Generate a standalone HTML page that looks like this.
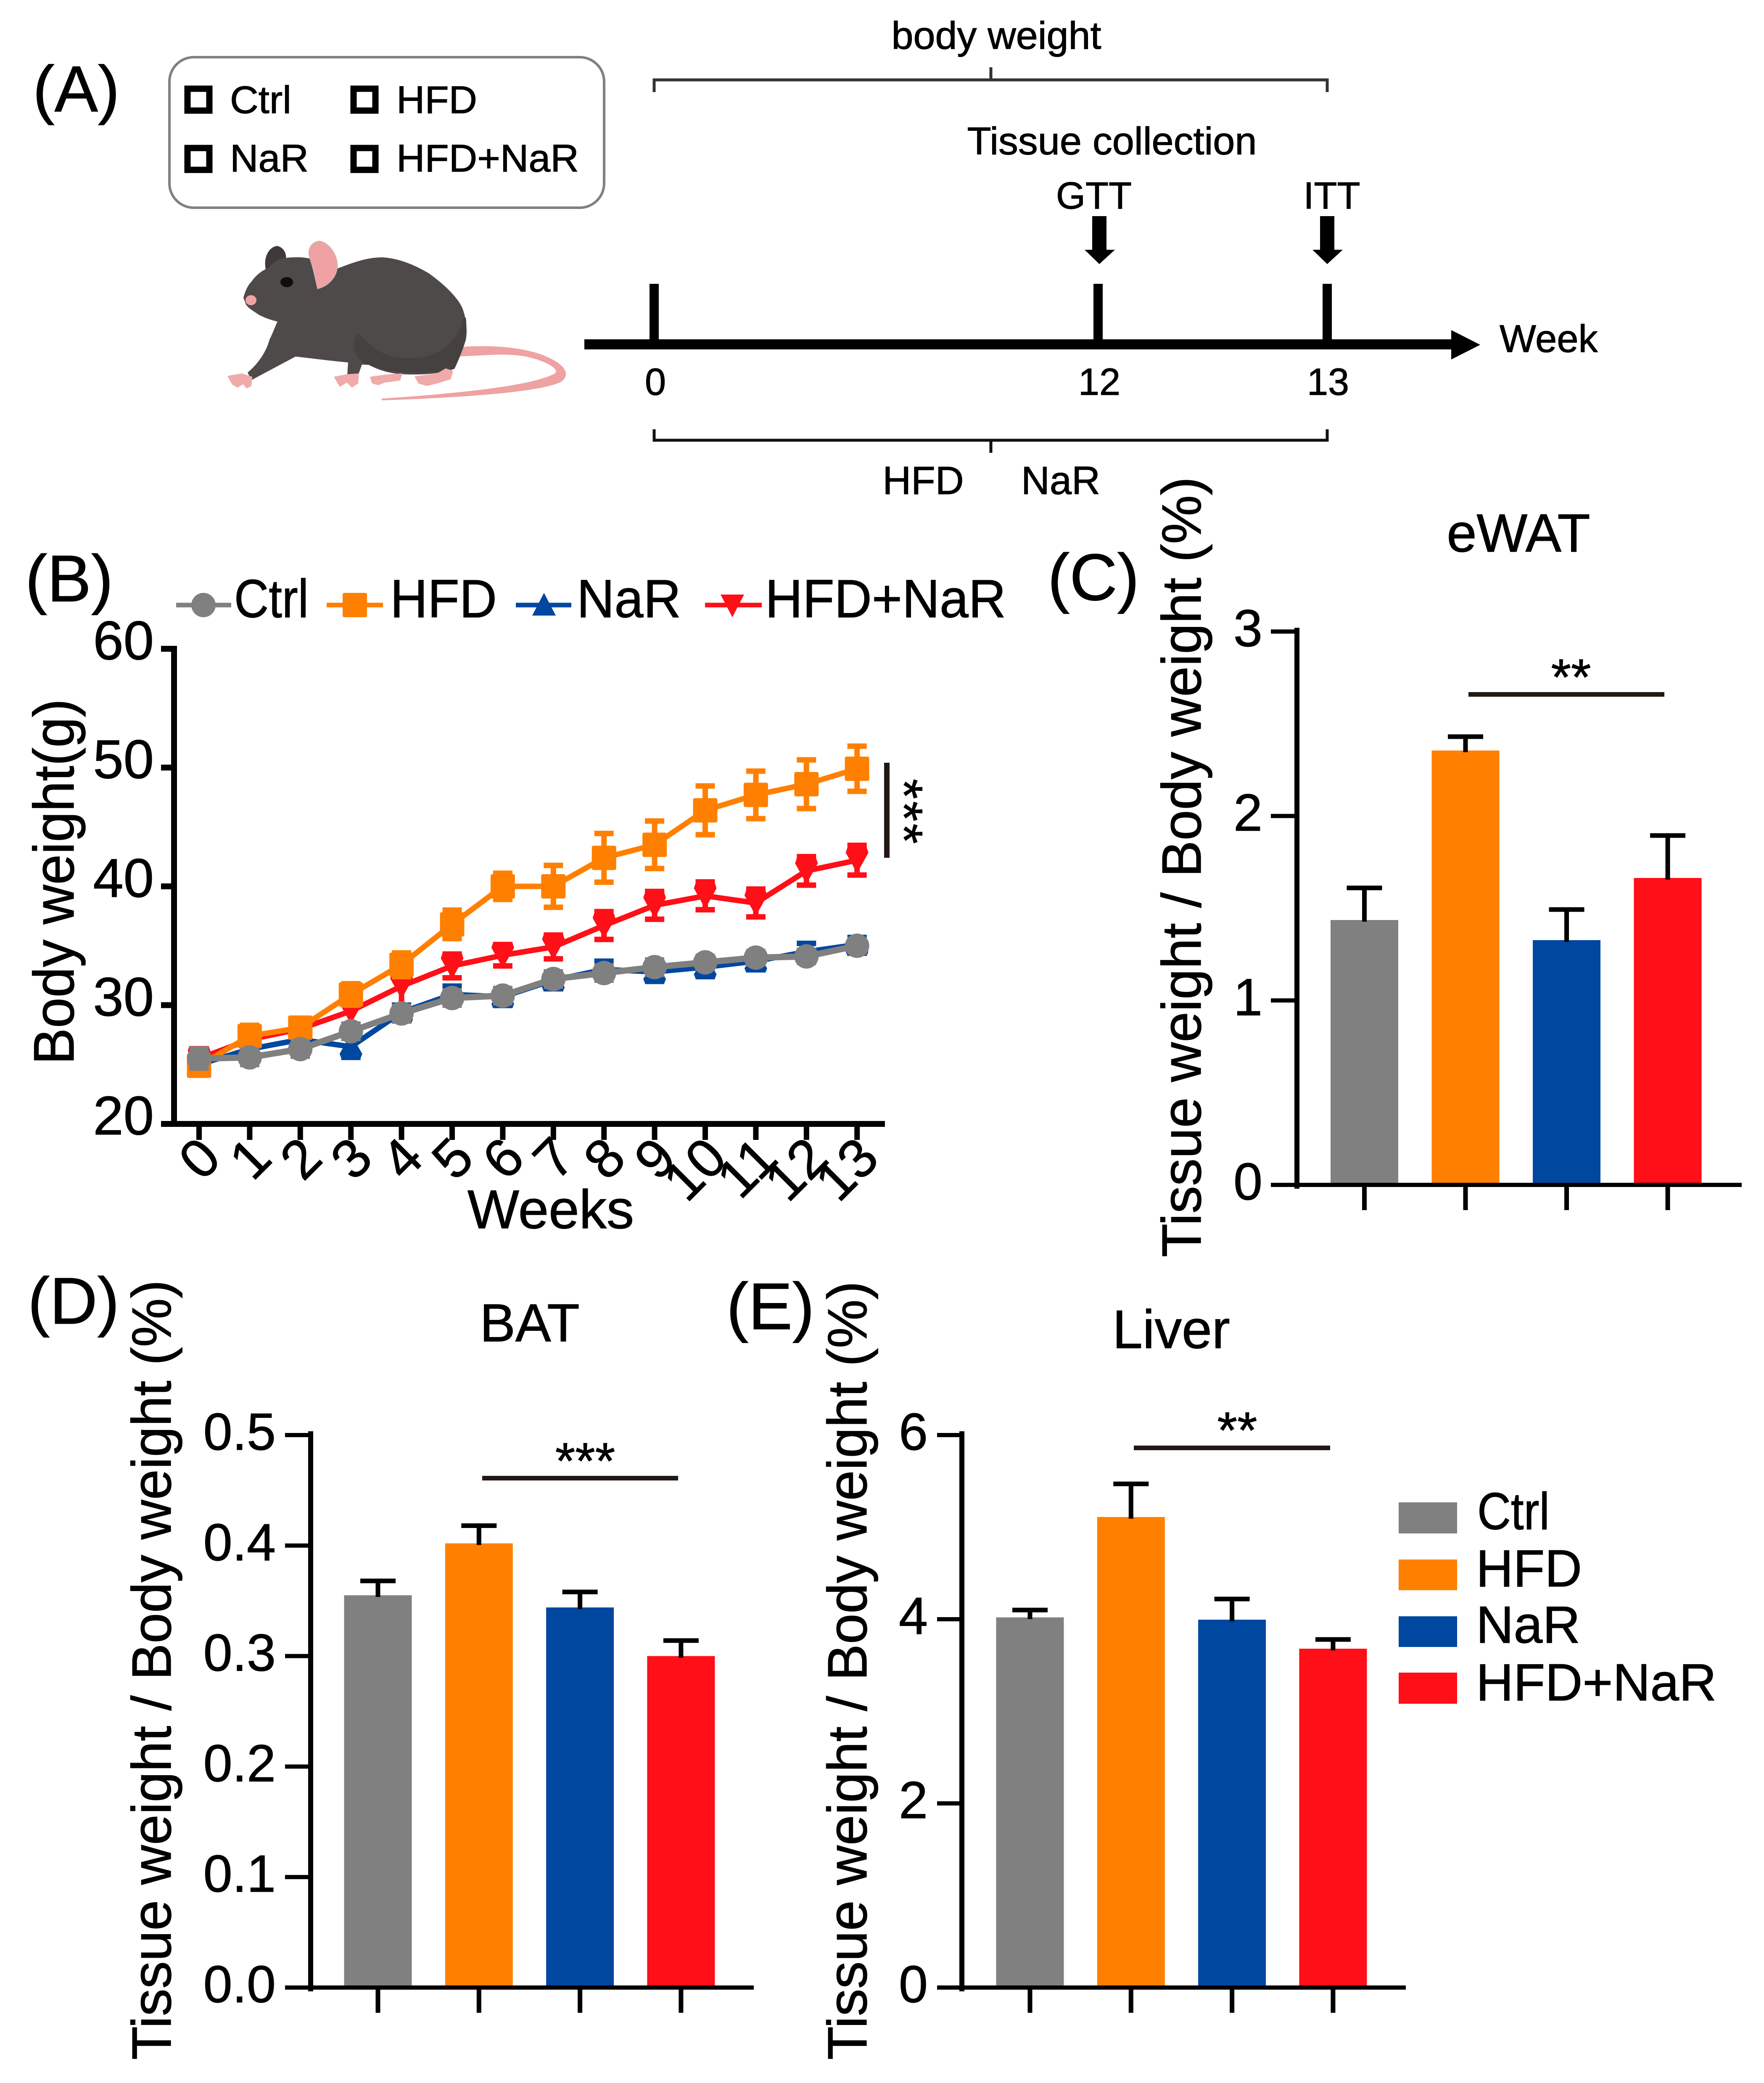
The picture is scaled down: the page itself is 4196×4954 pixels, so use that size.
<!DOCTYPE html>
<html lang="en">
<head>
<meta charset="utf-8">
<title>Body and tissue weight figure</title>
<style>
html,body{margin:0;padding:0;background:#fff;}
svg{display:block;}
text{font-family:"Liberation Sans",Arial,sans-serif;fill:#000;stroke:#000;stroke-width:1.2px;}
</style>
</head>
<body>
<svg id="fig" xmlns="http://www.w3.org/2000/svg" width="4196" height="4954" viewBox="0 0 4196 4954">
<rect width="4196" height="4954" fill="#fff"/>

<g>
  <text x="78" y="265" font-size="155">(A)</text>
  <rect x="403" y="136" width="1034" height="358" rx="58" fill="#fff" stroke="#808080" stroke-width="6"/>
  <g fill="#fff" stroke="#000" stroke-width="15">
    <rect x="446" y="211" width="52" height="52"/>
    <rect x="841" y="211" width="52" height="52"/>
    <rect x="446" y="352" width="52" height="52"/>
    <rect x="841" y="352" width="52" height="52"/>
  </g>
  <g font-size="92">
    <text x="547" y="269" textLength="146" lengthAdjust="spacingAndGlyphs">Ctrl</text>
    <text x="943" y="269" textLength="192" lengthAdjust="spacingAndGlyphs">HFD</text>
    <text x="547" y="408" textLength="187" lengthAdjust="spacingAndGlyphs">NaR</text>
    <text x="943" y="408" textLength="434" lengthAdjust="spacingAndGlyphs">HFD+NaR</text>
  </g>

  <g>
    <path d="M1085 826 C1150 820 1240 822 1300 848 C1345 868 1358 890 1335 908 C1290 932 1100 946 909 952 L907 948 C1090 936 1270 917 1320 888 C1332 878 1300 860 1260 850 C1210 838 1150 846 1085 848 Z" fill="#eea2a2"/>
    <path d="M632 640 C626 612 640 586 660 585 C678 590 682 606 680 620 Z" fill="#3f393a"/>
    <path d="M579 708 C584 690 590 678 598 670 C612 650 630 640 641 636 C650 620 670 612 700 612 C735 610 770 622 794 641 C815 636 860 612 909 612 C950 614 990 632 1020 650 C1062 680 1090 710 1100 733 C1112 765 1112 800 1106 815 C1098 840 1085 870 1081 877 C1050 890 1000 892 957 890 C925 888 900 880 878 868 L861 867 L852 892 L826 892 L828 862 C800 860 740 852 703 848 L598 904 L589 886 C620 860 635 830 641 808 C650 790 655 775 660 765 C640 760 620 752 612 746 C600 738 586 730 584 721 Z" fill="#4e4a4a"/>
    <path d="M1100 760 C1090 820 1030 860 950 850 C900 845 880 820 850 790 C830 830 850 860 878 868 C910 885 1000 895 1081 877 C1090 850 1115 810 1108 755 Z" fill="#464141"/>
    <path d="M737 612 C730 590 745 574 761 574 C785 580 800 605 802 630 C802 650 790 676 756 686 C750 660 745 635 737 612 Z" fill="#f0a1a4" stroke="#d8b0ab" stroke-width="3"/>
    <ellipse cx="682" cy="671" rx="15" ry="12" fill="#0e0e0e"/>
    <ellipse cx="597" cy="714" rx="13" ry="12" fill="#f0a4a6"/>
    <g fill="#f0aaaa">
      <path d="M541 894 L575 888 L600 896 L598 918 L587 924 L578 914 L565 922 L552 914 Z"/>
      <path d="M794 896 L825 890 L854 888 L852 912 L837 922 L825 910 L808 920 Z"/>
      <path d="M880 896 L925 890 L957 888 L952 905 L915 910 L900 916 L885 912 Z"/>
      <path d="M986 895 L1040 888 L1060 876 L1078 882 L1072 902 L1040 912 L1015 918 L995 912 Z"/>
    </g>
  </g>

  <path d="M1556 219 V190 H3157 V219 M2357 190 V160" fill="none" stroke="#333" stroke-width="7"/>
  <text x="2370" y="116" font-size="92" text-anchor="middle" textLength="499" lengthAdjust="spacingAndGlyphs">body weight</text>
  <text x="2645" y="367" font-size="92" text-anchor="middle" textLength="689" lengthAdjust="spacingAndGlyphs">Tissue collection</text>
  <text x="2602" y="496" font-size="90" text-anchor="middle">GTT</text>
  <text x="3168" y="496" font-size="90" text-anchor="middle">ITT</text>
  <path d="M2598 514 H2632 V594 H2652 L2615 628 L2580 594 H2598 Z" fill="#000"/>
  <path d="M3140 514 H3174 V594 H3194 L3157 628 L3122 594 H3140 Z" fill="#000"/>
  <rect x="1390" y="807" width="2070" height="24" fill="#000"/>
  <path d="M3452 785 L3521 820 L3452 855 Z" fill="#000"/>
  <rect x="1545" y="675" width="22" height="140" fill="#000"/>
  <rect x="2601" y="675" width="22" height="140" fill="#000"/>
  <rect x="3146" y="675" width="22" height="140" fill="#000"/>
  <text x="3567" y="837" font-size="92">Week</text>
  <text x="1559" y="939" font-size="90" text-anchor="middle">0</text>
  <text x="2615" y="939" font-size="90" text-anchor="middle">12</text>
  <text x="3159" y="939" font-size="90" text-anchor="middle">13</text>
  <path d="M1556 1021 V1047 H3157 V1021 M2357 1047 V1077" fill="none" stroke="#111" stroke-width="7"/>
  <text x="2196" y="1175" font-size="94" text-anchor="middle">HFD</text>
  <text x="2523" y="1175" font-size="94" text-anchor="middle">NaR</text>
</g>

<g id="panelB">
  <text x="60" y="1430" font-size="157">(B)</text>
  <g>
    <g>
      <line x1="419" y1="1439" x2="550" y2="1439" stroke="#808080" stroke-width="11"/>
      <circle cx="484" cy="1439" r="29" fill="#808080"/>
      <text x="557" y="1468" font-size="128" textLength="177" lengthAdjust="spacingAndGlyphs">Ctrl</text>
    </g>
    <g>
      <line x1="777" y1="1439" x2="911" y2="1439" stroke="#ff8000" stroke-width="11"/>
      <rect x="819" y="1414" width="50" height="50" fill="#ff8000" stroke="#ff8000" stroke-width="8" stroke-linejoin="round"/>
      <text x="928" y="1468" font-size="128" textLength="254" lengthAdjust="spacingAndGlyphs">HFD</text>
    </g>
    <g>
      <line x1="1227" y1="1439" x2="1359" y2="1439" stroke="#0047a0" stroke-width="11"/>
      <path d="M1266 1464 H1322 L1294 1410 Z" fill="#0047a0"/>
      <text x="1372" y="1468" font-size="128" textLength="248" lengthAdjust="spacingAndGlyphs">NaR</text>
    </g>
    <g>
      <line x1="1677" y1="1439" x2="1812" y2="1439" stroke="#ff0f17" stroke-width="11"/>
      <path d="M1714 1414 H1770 L1742 1468 Z" fill="#ff0f17"/>
      <text x="1820" y="1468" font-size="128" textLength="573" lengthAdjust="spacingAndGlyphs">HFD+NaR</text>
    </g>
  </g>
  <text transform="translate(175,2532) rotate(-90)" font-size="136" textLength="870" lengthAdjust="spacingAndGlyphs">Body weight(g)</text>
  <text x="1310" y="2921" font-size="130" text-anchor="middle" textLength="396" lengthAdjust="spacingAndGlyphs">Weeks</text>
  <rect x="2103" y="1814" width="13" height="226" fill="#231815"/>
  <text transform="translate(2108,1932) rotate(90)" font-size="124" letter-spacing="5" text-anchor="middle">***</text>
</g>

<g>
  <text x="2492" y="1427" font-size="157">(C)</text>
  <text x="3612" y="1312" font-size="128" text-anchor="middle">eWAT</text>
  <text transform="translate(2856,2990) rotate(-90)" font-size="132" textLength="1856" lengthAdjust="spacingAndGlyphs">Tissue weight / Body weight (%)</text>
  <g id="panelC"></g>
  <rect x="3493" y="1646" width="466" height="11" fill="#231815"/>
  <text x="3737" y="1652" font-size="122" text-anchor="middle">**</text>
</g>

<g>
  <text x="66" y="3148" font-size="157">(D)</text>
  <text x="1260" y="3190" font-size="127" text-anchor="middle">BAT</text>
  <text transform="translate(406,4899) rotate(-90)" font-size="132" textLength="1855" lengthAdjust="spacingAndGlyphs">Tissue weight / Body weight (%)</text>
  <g id="panelD"></g>
  <rect x="1147" y="3510" width="466" height="11" fill="#231815"/>
  <text x="1392" y="3516" font-size="122" text-anchor="middle">***</text>
</g>

<g>
  <text x="1728" y="3161" font-size="157">(E)</text>
  <text x="2786" y="3206" font-size="129" text-anchor="middle">Liver</text>
  <text transform="translate(2061,4899) rotate(-90)" font-size="132" textLength="1852" lengthAdjust="spacingAndGlyphs">Tissue weight / Body weight (%)</text>
  <g id="panelE"></g>
  <rect x="2697" y="3438" width="467" height="11" fill="#231815"/>
  <text x="2943" y="3443" font-size="122" text-anchor="middle">**</text>
</g>

<g>
  <g>
    <rect x="3327" y="3573" width="139" height="74" fill="#808080"/>
    <text x="3514" y="3637" font-size="124" textLength="172" lengthAdjust="spacingAndGlyphs">Ctrl</text>
  </g>
  <g>
    <rect x="3327" y="3709" width="139" height="73" fill="#ff8000"/>
    <text x="3511" y="3773" font-size="124" textLength="252" lengthAdjust="spacingAndGlyphs">HFD</text>
  </g>
  <g>
    <rect x="3327" y="3844" width="139" height="73" fill="#0047a0"/>
    <text x="3511" y="3907" font-size="124" textLength="248" lengthAdjust="spacingAndGlyphs">NaR</text>
  </g>
  <g>
    <rect x="3327" y="3978" width="139" height="74" fill="#ff0f17"/>
    <text x="3511" y="4044" font-size="124" textLength="572" lengthAdjust="spacingAndGlyphs">HFD+NaR</text>
  </g>
</g>
</svg>

<script>
// ---- Panel B: body weight line chart ----
const weekLabels = [0,1,2,3,4,5,6,7,8,9,10,11,12,13];
const weightTicks = [20,30,40,50,60];
const ctrlWeight = [25.5,25.6,26.3,27.8,29.3,30.6,30.8,32.2,32.7,33.2,33.6,34.0,34.1,35.0];
const ctrlError  = [0.8,0.6,0.6,0.6,0.6,0.6,0.6,0.6,0.6,0.6,0.5,0.5,0.5,0.5];
const hfdWeight  = [24.9,27.4,28.1,30.9,33.4,36.8,40.0,40.0,42.4,43.5,46.4,47.7,48.6,49.9];
const hfdError   = [0.8,0.9,0.8,0.9,1.0,1.2,1.1,1.76,2.05,2.0,2.05,2.0,2.05,1.9];
const narWeight  = [25.0,26.3,27.1,26.5,29.4,30.9,30.7,32.1,33.0,32.8,33.2,33.7,34.5,35.1];
const narError   = [0.8,0.7,0.7,0.9,0.6,0.7,0.7,0.6,0.7,0.8,0.8,0.6,0.7,0.6];
const mixWeight  = [25.5,27.1,28.0,29.5,31.6,33.3,34.2,34.9,36.7,38.4,39.2,38.6,41.3,42.2];
const mixError   = [0.8,0.8,0.8,1.1,1.6,1.0,0.9,1.0,1.17,1.17,1.17,1.17,1.2,1.25];

// ---- Panels C, D, E: tissue weight bars ----
const barGroups    = ['ctrl','hfd','nar','hfd-nar'];
const ewatValues   = [1.436,2.355,1.327,1.664];
const ewatUpper    = [1.61,2.43,1.493,1.894];
const ewatTicks    = ['0','1','2','3'];
const batValues    = [0.355,0.402,0.344,0.300];
const batUpper     = [0.368,0.418,0.358,0.314];
const batTicks     = ['0.0','0.1','0.2','0.3','0.4','0.5'];
const liverValues  = [4.02,5.11,3.995,3.68];
const liverUpper   = [4.10,5.47,4.22,3.78];
const liverTicks   = ['0','2','4','6'];

const NS = 'http://www.w3.org/2000/svg';
const GRAY = '#808080', ORANGE = '#ff8000', BLUE = '#0047a0', RED = '#ff0f17';
const barColors = [GRAY, ORANGE, BLUE, RED];

function make(parent, tag, attrs, text) {
  const el = document.createElementNS(NS, tag);
  for (const k in attrs) el.setAttribute(k, attrs[k]);
  if (text !== undefined) el.textContent = text;
  parent.appendChild(el);
  return el;
}

// axis functions for the line chart
function xWeek(w) { return 473.5 + 120.4 * w; }
function yWeight(v) { return 2673 - (v - 20) * 28.25; }

const panelB = document.getElementById('panelB');

function drawLineAxes() {
  const g = make(panelB, 'g', {});
  
  
  const yAxis = make(g, 'rect', {x: 407, y: yWeight(60) - 7, width: 14, height: yWeight(20) - yWeight(60) + 14, fill: '#000'});
  
  
  const xAxis = make(g, 'rect', {x: 383, y: yWeight(20) - 7, width: 1722, height: 14, fill: '#000'});
  
  
  weightTicks.forEach(function (t) {
    const tick = make(g, 'rect', {x: 383, y: yWeight(t) - 7, width: 30, height: 14, fill: '#000'});
    
    
    const label = make(g, 'text', {x: 366, y: yWeight(t) + 25, 'font-size': 130, 'text-anchor': 'end'}, String(t));
    
    
  });
  weekLabels.forEach(function (w) {
    const tick = make(g, 'rect', {x: xWeek(w) - 6.5, y: yWeight(20), width: 13, height: 38, fill: '#000'});
    
    
    const ex = xWeek(w) + 58, ey = 2761;
    const label = make(g, 'text', {transform: 'translate(' + ex + ',' + ey + ') rotate(-45)', 'font-size': 130, 'text-anchor': 'end'}, String(w));
    
    
  });
}

function drawSeries(name, values, errors, color, marker, lineWidth) {
  const g = make(panelB, 'g', {});
  
  
  values.forEach(function (v, i) {
    const cx = xWeek(weekLabels[i]);
    const top = yWeight(v + errors[i]), bot = yWeight(v - errors[i]);
    const err = make(g, 'path', {d: 'M' + cx + ' ' + top + 'V' + bot + 'M' + (cx - 23) + ' ' + top + 'H' + (cx + 23) + 'M' + (cx - 23) + ' ' + bot + 'H' + (cx + 23), fill: 'none', stroke: color, 'stroke-width': 13});
    
    
  });
  const pts = values.map(function (v, i) { return xWeek(weekLabels[i]) + ',' + yWeight(v); }).join(' ');
  const line = make(g, 'polyline', {points: pts, fill: 'none', stroke: color, 'stroke-width': lineWidth, 'stroke-linejoin': 'round'});
  
  
  values.forEach(function (v, i) {
    const cx = xWeek(weekLabels[i]), cy = yWeight(v);
    let m;
    if (marker === 'circle') {
      m = make(g, 'circle', {cx: cx, cy: cy, r: 29, fill: color});
    } else if (marker === 'square') {
      m = make(g, 'rect', {x: cx - 25, y: cy - 25, width: 50, height: 50, fill: color, stroke: color, 'stroke-width': 8, 'stroke-linejoin': 'round'});
    } else if (marker === 'up') {
      m = make(g, 'path', {d: 'M' + (cx - 23) + ' ' + (cy + 27) + 'H' + (cx + 23) + 'L' + (cx + 27) + ' ' + (cy + 17) + 'L' + (cx + 6) + ' ' + (cy - 20) + 'H' + (cx - 6) + 'L' + (cx - 27) + ' ' + (cy + 17) + 'Z', fill: color});
    } else {
      m = make(g, 'path', {d: 'M' + (cx - 23) + ' ' + (cy - 30) + 'H' + (cx + 23) + 'L' + (cx + 27) + ' ' + (cy - 18) + 'L' + (cx + 6) + ' ' + (cy + 20) + 'H' + (cx - 6) + 'L' + (cx - 27) + ' ' + (cy - 18) + 'Z', fill: color});
    }
    
    
  });
}

drawLineAxes();
drawSeries('hfd-nar', mixWeight, mixError, RED, 'down', 13);
drawSeries('nar', narWeight, narError, BLUE, 'up', 13);
drawSeries('hfd', hfdWeight, hfdError, ORANGE, 'square', 13);
drawSeries('ctrl', ctrlWeight, ctrlError, GRAY, 'circle', 15);

// generic bar chart: layout passed by panel, data read from arrays above
function drawBars(host, name, values, upper, ticks, layout) {
  const root = document.getElementById(host);
  const maxV = parseFloat(ticks[ticks.length - 1]);
  function y(v) { return layout.y0 - (v / maxV) * (layout.y0 - layout.yMax); }
  function xc(i) { return layout.firstCenter + i * layout.step; }

  values.forEach(function (v, i) {
    const bar = make(root, 'rect', {x: xc(i) - 80.5, y: y(v), width: 161, height: layout.y0 - y(v), fill: barColors[i]});
    
    
    const errTop = y(upper[i]);
    const err = make(root, 'path', {d: 'M' + xc(i) + ' ' + (y(v) + 4) + 'V' + errTop + 'M' + (xc(i) - 42) + ' ' + errTop + 'H' + (xc(i) + 42), fill: 'none', stroke: '#000', 'stroke-width': 11});
    
    
    const tick = make(root, 'rect', {x: xc(i) - 5.5, y: layout.y0, width: 11, height: 60, fill: '#000'});
    
    
  });

  const yAxis = make(root, 'rect', {x: layout.axisX - 6, y: y(maxV) - 9, width: 12, height: layout.y0 - y(maxV) + 18, fill: '#000'});
  
  
  const xAxis = make(root, 'rect', {x: layout.tickLeft, y: layout.y0 - 5, width: layout.xEnd - layout.tickLeft, height: 10, fill: '#000'});
  
  

  ticks.forEach(function (t) {
    const v = parseFloat(t);
    const tick = make(root, 'rect', {x: layout.tickLeft, y: y(v) - 5, width: layout.axisX - layout.tickLeft, height: 10, fill: '#000'});
    
    
    const label = make(root, 'text', {x: layout.labelX, y: y(v) + 35, 'font-size': 124, 'text-anchor': 'end'}, t);
    
    
  });
}

drawBars('panelC', 'ewat', ewatValues, ewatUpper, ewatTicks,
  {y0: 2818, yMax: 1502, firstCenter: 3245.5, step: 240.5, axisX: 3085, tickLeft: 3023, xEnd: 4143, labelX: 3003});
drawBars('panelD', 'bat', batValues, batUpper, batTicks,
  {y0: 4727, yMax: 3413, firstCenter: 899, step: 240.3, axisX: 739, tickLeft: 678, xEnd: 1793, labelX: 656});
drawBars('panelE', 'liver', liverValues, liverUpper, liverTicks,
  {y0: 4727, yMax: 3413, firstCenter: 2450, step: 240.3, axisX: 2288, tickLeft: 2229, xEnd: 3344, labelX: 2207});
</script>
</body>
</html>
